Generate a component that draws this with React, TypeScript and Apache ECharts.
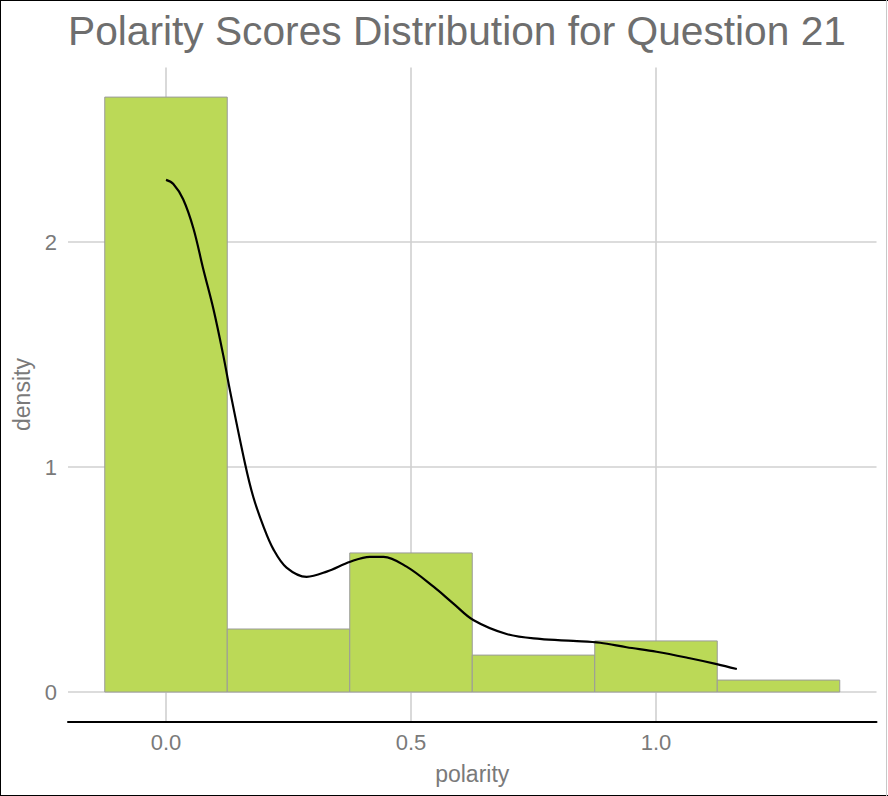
import React, { useEffect, useRef } from "react";
import * as echarts from "echarts";

const titleText = "Polarity Scores Distribution for Question 21";
const xAxisTitle = "polarity";
const yAxisTitle = "density";

const binCenters = [0, 0.25, 0.5, 0.75, 1.0, 1.25];
const binWidth = 0.25;
const binDensities = [2.644, 0.28, 0.618, 0.164, 0.227, 0.053];

const curveX = [0, 0.015, 0.035, 0.056, 0.076, 0.097, 0.117, 0.131, 0.161, 0.178, 0.199, 0.219, 0.246, 0.287, 0.328, 0.376, 0.416, 0.444, 0.491, 0.546, 0.586, 0.627, 0.695, 0.763, 0.831, 0.886, 0.94, 1.001, 1.069, 1.124, 1.165];
const curveY = [2.276, 2.258, 2.19, 2.06, 1.88, 1.7, 1.495, 1.335, 1.018, 0.868, 0.735, 0.635, 0.553, 0.512, 0.535, 0.579, 0.601, 0.601, 0.557, 0.468, 0.394, 0.32, 0.258, 0.236, 0.227, 0.219, 0.199, 0.179, 0.15, 0.124, 0.102];

const xTicks = [0, 0.5, 1.0];
const yTicks = [0, 1, 2];

export default function App() {
  const ref = useRef<HTMLDivElement>(null);
  useEffect(() => {
    if (!ref.current) return;
    const chart = echarts.init(ref.current, null, { renderer: "svg" });
    const labelColor = "#7a7a7a";
    const gridColor = "#d0d0d0";
    chart.setOption({
      animation: false,
      backgroundColor: "#ffffff",
      title: {
        text: titleText,
        left: 68,
        top: 10,
        padding: 0,
        textStyle: {
          fontFamily: "Liberation Sans, Arial, sans-serif",
          fontSize: 40.7,
          fontWeight: "normal",
          color: "#6e6e6e",
        },
      },
      grid: {
        left: 68,
        right: 11.5,
        top: 67.4,
        bottom: 74.3,
        containLabel: false,
        outerBoundsMode: "none",
      },
      xAxis: {
        type: "value",
        min: -0.2,
        max: 1.45,
        name: xAxisTitle,
        nameLocation: "middle",
        nameGap: 41,
        nameTextStyle: {
          fontFamily: "Liberation Sans, Arial, sans-serif",
          fontSize: 23,
          color: labelColor,
        },
        axisLine: { show: true, onZero: false, lineStyle: { color: "#000000", width: 2 } },
        axisTick: { show: false, customValues: xTicks },
        axisLabel: {
          customValues: xTicks,
          formatter: (v: number) => v.toFixed(1),
          fontFamily: "Liberation Sans, Arial, sans-serif",
          fontSize: 22,
          color: labelColor,
          margin: 10,
        },
        splitLine: { show: true, lineStyle: { color: gridColor, width: 1.6 } },
      },
      yAxis: {
        type: "value",
        min: -0.132,
        max: 2.776,
        name: yAxisTitle,
        nameLocation: "middle",
        nameGap: 23,
        nameTextStyle: {
          fontFamily: "Liberation Sans, Arial, sans-serif",
          fontSize: 23,
          color: labelColor,
        },
        axisLine: { show: false },
        axisTick: { show: false, customValues: yTicks },
        axisLabel: {
          customValues: yTicks,
          formatter: (v: number) => String(v),
          fontFamily: "Liberation Sans, Arial, sans-serif",
          fontSize: 22,
          color: labelColor,
          margin: 11,
        },
        splitLine: { show: true, lineStyle: { color: gridColor, width: 1.6 } },
      },
      series: [
        {
          type: "custom",
          data: binCenters.map((c, i) => [c, binDensities[i]]),
          encode: { x: 0, y: 1 },
          renderItem: (params: any, api: any) => {
            const c = api.value(0);
            const h = api.value(1);
            const p0 = api.coord([c - binWidth / 2, h]);
            const p1 = api.coord([c + binWidth / 2, 0]);
            return {
              type: "rect",
              shape: { x: p0[0], y: p0[1], width: p1[0] - p0[0], height: p1[1] - p0[1] },
              style: { fill: "#BBD957", stroke: "#9a9a9a", lineWidth: 1 },
            };
          },
          z: 2,
        },
        {
          type: "line",
          data: curveX.map((x, i) => [x, curveY[i]]),
          smooth: 0.35,
          showSymbol: false,
          lineStyle: { color: "#000000", width: 2.2 },
          z: 3,
        },
      ],
      graphic: [
        { type: "line", shape: { x1: 0, y1: 0.5, x2: 888, y2: 0.5 }, style: { stroke: "#000", lineWidth: 1 } },
        { type: "line", shape: { x1: 0.5, y1: 0, x2: 0.5, y2: 796 }, style: { stroke: "#000", lineWidth: 1 } },
        { type: "line", shape: { x1: 0, y1: 795.5, x2: 888, y2: 795.5 }, style: { stroke: "#000", lineWidth: 1 } },
        { type: "line", shape: { x1: 886.5, y1: 0, x2: 886.5, y2: 796 }, style: { stroke: "#c8c8c8", lineWidth: 1 } },
      ],
    });
    return () => chart.dispose();
  }, []);
  return (
    <div
      ref={ref}
      style={{ position: "absolute", left: 0, top: 0, width: 888, height: 796 }}
    />
  );
}
